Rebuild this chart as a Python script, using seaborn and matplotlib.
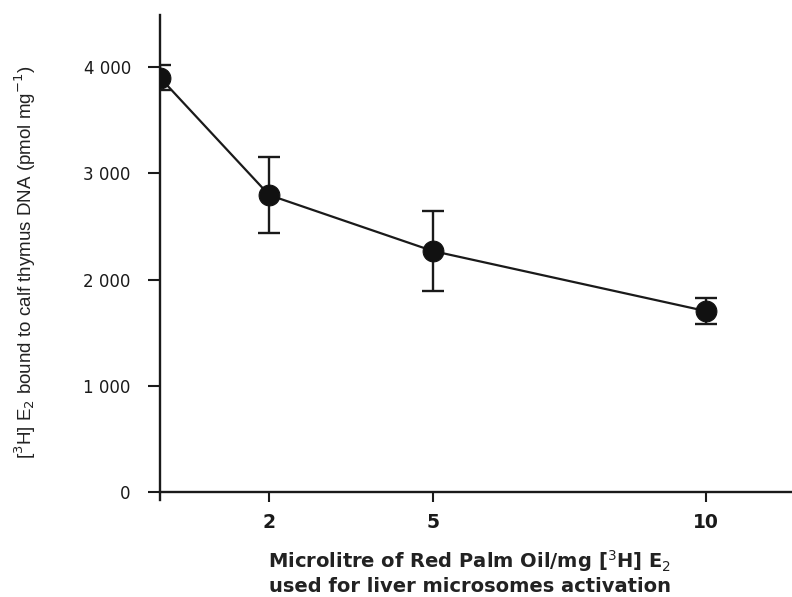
import matplotlib
matplotlib.use("Agg")
import matplotlib.pyplot as plt
import seaborn as sns
import pandas as pd

# Data
dose = [0, 2, 5, 10]
bound = [3900, 2795, 2268, 1703]
err = [120, 355, 380, 125]
yticks = [0, 1000, 2000, 3000, 4000]
ytick_labels = ["0", "1 000", "2 000", "3 000", "4 000"]
xticks = [2, 5, 10]
xtick_labels = ["2", "5", "10"]

sns.set_style("white")
plt.rcParams['font.family'] = ['DejaVu Sans']

df = pd.DataFrame({"dose": dose, "bound": bound, "err": err})

fig = plt.figure(figsize=(7.92, 5.97), dpi=100)
ax = fig.add_axes([0.202, 0.1625, 0.798, 0.8125])

ax.errorbar(df["dose"], df["bound"], yerr=df["err"], fmt="none",
            ecolor="#1a1a1a", elinewidth=1.7, capsize=8, capthick=1.7, zorder=2)
sns.lineplot(data=df, x="dose", y="bound", ax=ax, color="#1a1a1a",
             linewidth=1.6, marker="o", markersize=15, markeredgecolor="#111111",
             markerfacecolor="#111111", zorder=3)

ax.set_xlim(0, 11.58)
ax.set_ylim(-75, 4490)
ax.spines["top"].set_visible(False)
ax.spines["right"].set_visible(False)
ax.spines["bottom"].set_position(("data", 0))
for s in ("left", "bottom"):
    ax.spines[s].set_color("#1a1a1a")
    ax.spines[s].set_linewidth(1.7)

ax.set_yticks(yticks)
ax.set_yticklabels(ytick_labels)
ax.set_xticks(xticks)
ax.set_xticklabels(xtick_labels, fontweight="bold")
ax.tick_params(axis="y", direction="out", length=9, width=1.5, pad=12,
               labelsize=12, colors="#1a1a1a")
ax.tick_params(axis="x", direction="out", length=7, width=1.5, pad=8,
               labelsize=13.5, colors="#1a1a1a")
ax.tick_params(axis="both", left=True, bottom=True)

ax.set_xlabel("Microlitre of Red Palm Oil/mg [$^3$H] E$_2$\nused for liver microsomes activation",
              fontsize=14, fontweight="bold", color="#222222", linespacing=1.15)
ax.xaxis.set_label_coords(0.49, -0.1)
ax.set_ylabel("[$^3$H] E$_2$ bound to calf thymus DNA (pmol mg$^{-1}$)",
              fontsize=13.5, color="#222222", family=['Liberation Sans', 'DejaVu Sans'])
ax.yaxis.set_label_coords(-0.193, 0.49)

fig.savefig("out.png", dpi=100)
